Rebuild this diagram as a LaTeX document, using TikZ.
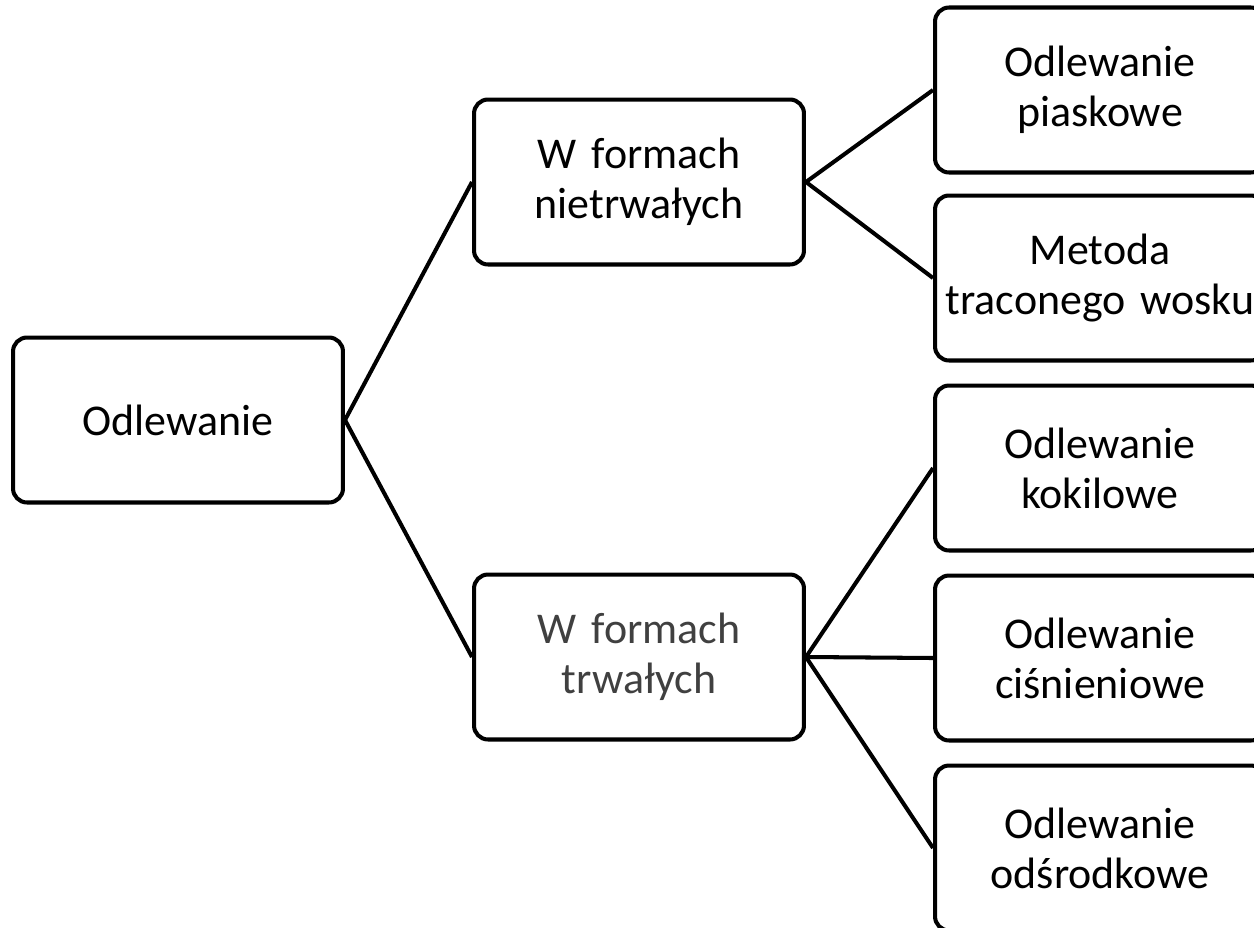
\documentclass[tikz,border=0pt]{standalone}
\usepackage{fontspec}
\setmainfont{Carlito}
\usepackage{xcolor}
\definecolor{treeGray}{HTML}{404040}
\usetikzlibrary{positioning}
\tikzset{
  every picture/.append style={font=\fontsize{25}{28.5}\selectfont},
  treebox/.style={rectangle,rounded corners=0.28cm,draw=black,fill=white,line width=2.3pt,
    minimum width=6.6cm,minimum height=3.3cm,text width=6.4cm,inner sep=0.1cm,align=center},
  treeline/.style={draw=black,line width=2.3pt},
}
\begin{document}
\begin{tikzpicture}[x=0.02cm,y=-0.02cm]
  \clip (0,0) rectangle (1254,927);
  \fill[white] (0,0) rectangle (1254,927);

  % root and second level
  \node[treebox] (root) at (178,420) {Odlewanie};
  \node[treebox] (nietrw) at (639,182) {W formach\\nietrwałych};
  \node[treebox, text=treeGray] (trw) at (639,657) {W formach\\trwałych};

  % third level
  \node[treebox] (piask) at (1100,90) {Odlewanie\\piaskowe};
  \node[treebox] (wosk) at (1100,278) {Metoda\\traconego wosku};
  \node[treebox] (kokil) at (1100,468) {Odlewanie\\kokilowe};
  \node[treebox] (cisn) at (1100,658) {Odlewanie\\ciśnieniowe};
  \node[treebox] (odsr) at (1100,848) {Odlewanie\\odśrodkowe};

  % connectors
  \draw[treeline] (root.east) -- (nietrw.west);
  \draw[treeline] (root.east) -- (trw.west);
  \draw[treeline] (nietrw.east) -- (piask.west);
  \draw[treeline] (nietrw.east) -- (wosk.west);
  \draw[treeline] (trw.east) -- (kokil.west);
  \draw[treeline] (trw.east) -- (cisn.west);
  \draw[treeline] (trw.east) -- (odsr.west);
\end{tikzpicture}
\end{document}
